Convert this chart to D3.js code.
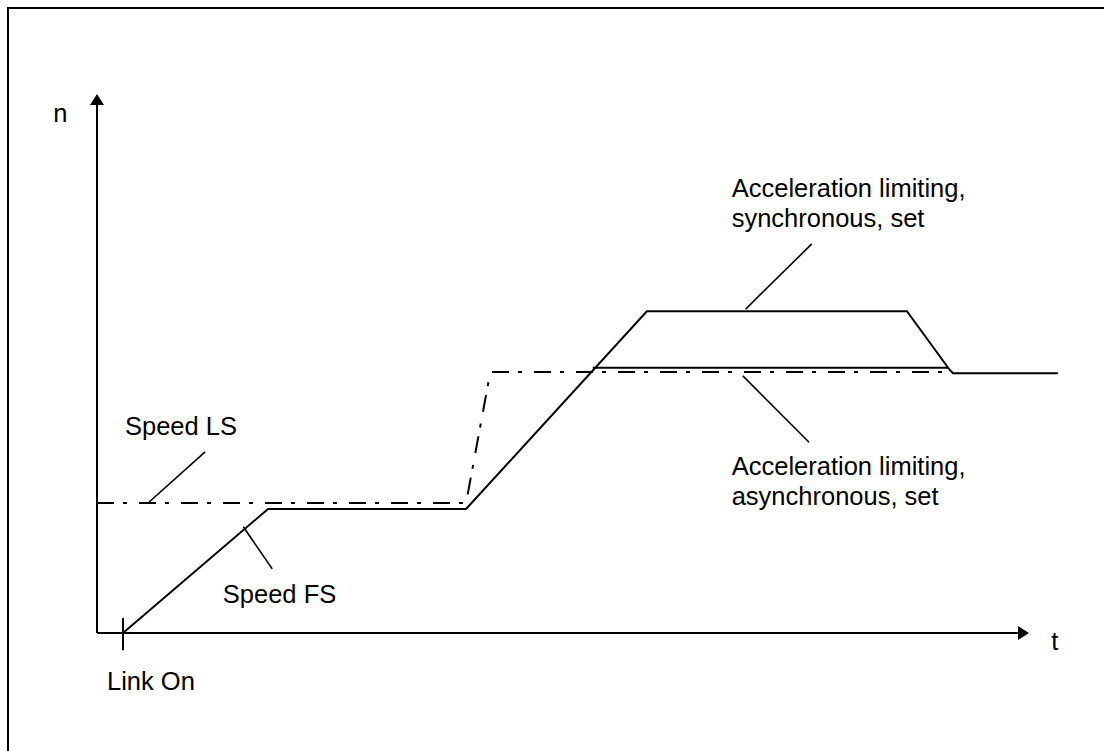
<!DOCTYPE html>
<html>
<head>
<meta charset="utf-8">
<script src="https://d3js.org/d3.v7.min.js"></script>
<style>
  body { margin: 0; background: #fff; }
  text { font-family: "Liberation Sans", Arial, sans-serif; font-size: 25.5px; fill: #000; }
</style>
</head>
<body>
<script>
// Curves, in (t, n) units. Axis runs t 0..100, n 0..100.
const speedFS = [[2.79, 0], [18.35, 23.0], [39.6, 23.0], [59.0, 59.7], [86.9, 59.7],
                 [91.5, 48.8], [91.85, 48.2], [103.1, 48.2]];
const asyncSet = [[53.2, 49.2], [91.3, 49.2]];
const speedLS = [[0, 24.1], [39.6, 24.1], [42.2, 48.4], [90.8, 48.4]];
const linkOnTick = [[2.79, 2.8], [2.79, -3.2]];

// Leader lines from curve to label.
const leaders = [
  [[69.6, 60.1], [76.7, 72.2]],
  [[69.3, 47.7], [76.4, 35.4]],
  [[5.6, 24.3], [11.6, 33.6]],
  [[15.7, 19.7], [18.8, 11.9]]
];

// Labels: position (t, n) and text lines.
const labels = [
  { t: -4.7, n: 94.8, lines: ["n"] },
  { t: 102.4, n: -3.2, lines: ["t"] },
  { t: 1.07, n: -10.6, lines: ["Link On"] },
  { t: 3.0, n: 36.7, lines: ["Speed LS"] },
  { t: 13.5, n: 5.6, lines: ["Speed FS"] },
  { t: 68.1, n: 80.9, lines: ["Acceleration limiting,", "synchronous, set"] },
  { t: 68.1, n: 29.3, lines: ["Acceleration limiting,", "asynchronous, set"] }
];

const width = 1104, height = 751;

let svg = d3.select("body").append("svg")
    .attr("width", width)
    .attr("height", height);

let x = d3.scaleLinear().domain([0, 100]).range([97, 1029]);
let y = d3.scaleLinear().domain([0, 100]).range([633, 94]);

// Frame (only top and left edges are inside the picture).
svg.append("rect")
    .attr("x", 8).attr("y", 8)
    .attr("width", 1200).attr("height", 1000)
    .attr("fill", "none")
    .attr("stroke", "#000")
    .attr("stroke-width", 2);

let line = d3.line().x(d => x(d[0])).y(d => y(d[1]));

// Axes with arrow heads.
svg.append("path")
    .attr("d", line([[0, 0], [0, 98]]))
    .attr("stroke", "#000").attr("stroke-width", 2).attr("fill", "none");
svg.append("path")
    .attr("d", line([[0, 0], [98.8, 0]]))
    .attr("stroke", "#000").attr("stroke-width", 2).attr("fill", "none");

svg.append("path")
    .attr("d", `M${x(0)},${y(100)} L${x(0) - 7},${y(100) + 11} L${x(0) + 7},${y(100) + 11} Z`)
    .attr("fill", "#000");
svg.append("path")
    .attr("d", `M${x(100)},${y(0)} L${x(100) - 11},${y(0) - 7} L${x(100) - 11},${y(0) + 7} Z`)
    .attr("fill", "#000");

// Solid curves.
[speedFS, asyncSet, linkOnTick].forEach(pts => {
  svg.append("path")
      .attr("d", line(pts))
      .attr("fill", "none")
      .attr("stroke", "#000")
      .attr("stroke-width", 2)
      .attr("stroke-linejoin", "miter");
});

// Dash-dot curve.
svg.append("path")
    .attr("d", line(speedLS))
    .attr("fill", "none")
    .attr("stroke", "#000")
    .attr("stroke-width", 2)
    .attr("stroke-dasharray", "17,9,4,12");

// Leader lines.
leaders.forEach(pts => {
  svg.append("path")
      .attr("d", line(pts))
      .attr("fill", "none")
      .attr("stroke", "#000")
      .attr("stroke-width", 1.6);
});

// Labels.
labels.forEach(l => {
  let txt = svg.append("text")
      .attr("x", x(l.t))
      .attr("y", y(l.n));
  l.lines.forEach((s, i) => {
    txt.append("tspan")
        .attr("x", x(l.t))
        .attr("dy", i === 0 ? 0 : 30)
        .text(s);
  });
});
</script>
</body>
</html>
